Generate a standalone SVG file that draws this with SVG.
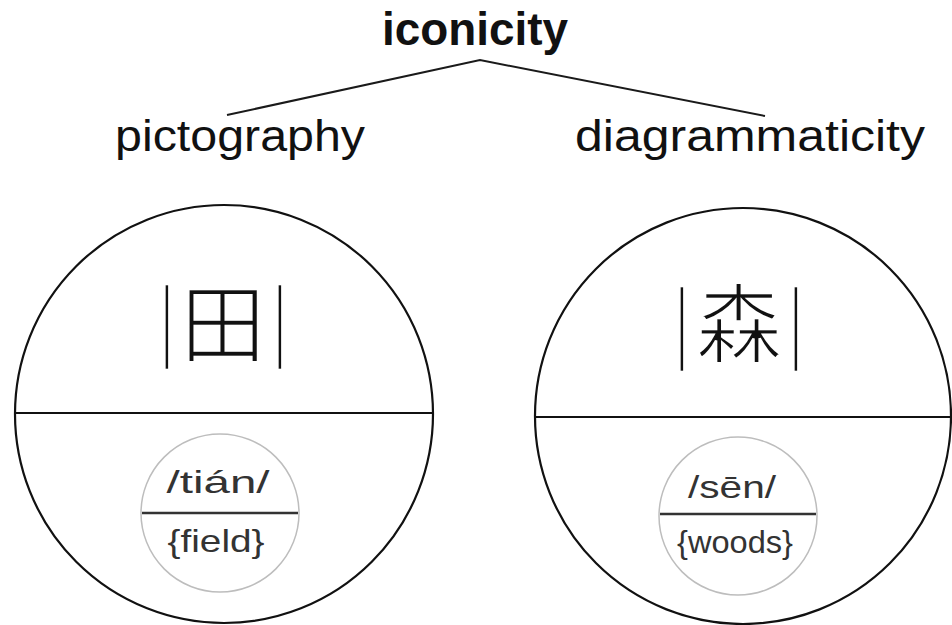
<svg xmlns="http://www.w3.org/2000/svg" width="952" height="625" viewBox="0 0 952 625">
<style>
.big{fill:none;stroke:#111;stroke-width:2.2}
.div{stroke:#111;stroke-width:2.2}
.small{fill:none;stroke:#bdbdbd;stroke-width:1.5}
.sdiv{stroke:#333;stroke-width:2.6}
.lbl{font-family:"Liberation Sans",Arial,sans-serif;fill:#111;text-anchor:middle}
.top{font-weight:bold;font-size:46px}
.sub{font-size:44px}
.cjk{font-family:"Noto Sans CJK SC","Noto Sans CJK JP",sans-serif;font-size:86px;fill:#111;stroke:#fff;stroke-width:2.4;paint-order:fill;text-anchor:middle}
.bar{font-size:77px}
.pin{font-family:"Liberation Sans",Arial,sans-serif;font-size:32px;fill:#333;text-anchor:middle}
.conn{fill:none;stroke:#1a1a1a;stroke-width:2}
</style>
<rect width="952" height="625" fill="#fff"/>
<g id="connectors">
<polyline class="conn" points="227,115 480,60 765,116"/>
</g>
<g id="iconicity">
<text class="lbl top" x="475" y="45" textLength="186" lengthAdjust="spacingAndGlyphs">iconicity</text>
</g>
<g id="pictography">
<text class="lbl sub" x="240" y="151" textLength="250" lengthAdjust="spacingAndGlyphs">pictography</text>
</g>
<g id="diagrammaticity">
<text class="lbl sub" x="750" y="151" textLength="350" lengthAdjust="spacingAndGlyphs">diagrammaticity</text>
</g>
<g id="tian">
<circle class="big" cx="224" cy="414" r="209"/>
<line class="div" x1="15" y1="413" x2="433" y2="413"/>
<text class="cjk"><tspan class="bar" x="167" y="349">|</tspan><tspan x="223" y="356">田</tspan><tspan class="bar" x="280" y="349">|</tspan></text>
<circle class="small" cx="220" cy="513" r="79"/>
<line class="sdiv" x1="142" y1="513" x2="298" y2="513"/>
<text class="pin" x="218" y="493" textLength="103" lengthAdjust="spacingAndGlyphs">/tián/</text>
<text class="pin" x="216" y="552" textLength="97" lengthAdjust="spacingAndGlyphs">{field}</text>
</g>
<g id="sen">
<circle class="big" cx="743" cy="416" r="208"/>
<line class="div" x1="535" y1="417" x2="951" y2="417"/>
<text class="cjk"><tspan class="bar" x="682" y="351">|</tspan><tspan x="739" y="356">森</tspan><tspan class="bar" x="796" y="351">|</tspan></text>
<circle class="small" cx="738" cy="516" r="79"/>
<line class="sdiv" x1="660" y1="514" x2="816" y2="514"/>
<text class="pin" x="732" y="498" textLength="88" lengthAdjust="spacingAndGlyphs">/sēn/</text>
<text class="pin" x="735" y="553" textLength="116" lengthAdjust="spacingAndGlyphs">{woods}</text>
</g>
</svg>
